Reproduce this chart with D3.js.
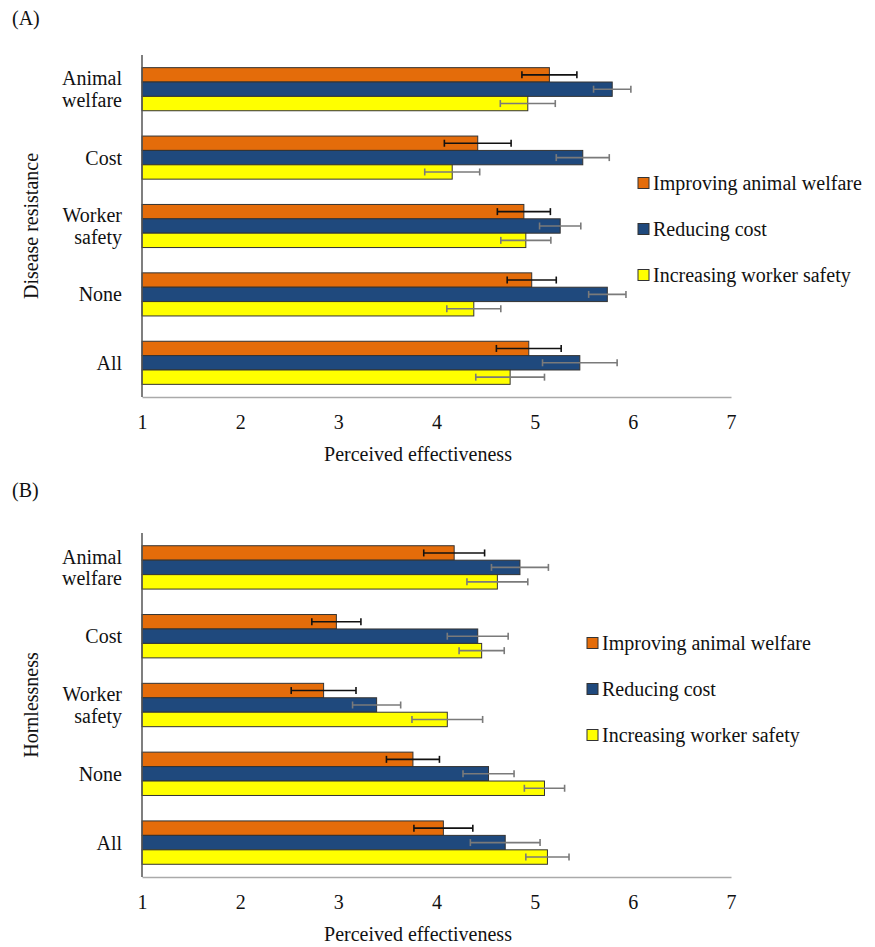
<!DOCTYPE html>
<html>
<head>
<meta charset="utf-8">
<script src="https://cdn.jsdelivr.net/npm/d3@7"></script>
<style>
  body { margin: 0; background: #fff; }
  svg text { font-family: "Liberation Serif", "LiberationSerif", "Times New Roman", Times, "DejaVu Serif", serif !important; }
</style>
</head>
<body>
<svg id="chart" width="875" height="947"></svg>
<script>
// ---- Data ----
const categories = ["Animal welfare", "Cost", "Worker safety", "None", "All"];
const categoryLines = [["Animal", "welfare"], ["Cost"], ["Worker", "safety"], ["None"], ["All"]];
const seriesNames = ["Improving animal welfare", "Reducing cost", "Increasing worker safety"];
const xTicks = [1, 2, 3, 4, 5, 6, 7];

// Panel A: Disease resistance (means and error half-widths)
const diseaseWelfare = [5.15, 4.42, 4.89, 4.97, 4.94];
const diseaseWelfareErr = [0.28, 0.34, 0.27, 0.25, 0.33];
const diseaseCost = [5.79, 5.49, 5.26, 5.74, 5.46];
const diseaseCostErr = [0.19, 0.27, 0.21, 0.19, 0.38];
const diseaseSafety = [4.93, 4.16, 4.91, 4.38, 4.75];
const diseaseSafetyErr = [0.28, 0.28, 0.255, 0.275, 0.35];

// Panel B: Hornlessness
const hornWelfare = [4.18, 2.98, 2.85, 3.76, 4.07];
const hornWelfareErr = [0.31, 0.25, 0.33, 0.27, 0.30];
const hornCost = [4.85, 4.42, 3.39, 4.53, 4.70];
const hornCostErr = [0.29, 0.31, 0.245, 0.26, 0.355];
const hornSafety = [4.62, 4.46, 4.11, 5.10, 5.13];
const hornSafetyErr = [0.31, 0.23, 0.36, 0.205, 0.22];

// ---- Styles ----
const colors = ["#E46C0A", "#1F497D", "#FFFF00"];
const errColors = ["#111111", "#7a7a7a", "#7a7a7a"];
const svg = d3.select("#chart");
const FONT = 20;

function panel(opts) {
  const g = svg.append("g");
  const x = d3.scaleLinear().domain([1, 7]).range([142, 731]);
  const y = d3.scaleBand().domain(categories).range([opts.top, opts.bottom])
    .paddingInner(0.37).paddingOuter(0.185);
  const ys = d3.scaleBand().domain(seriesNames).range([0, y.bandwidth()]);

  const series = opts.values.map((vals, si) => ({
    name: seriesNames[si], si,
    data: categories.map((c, ci) => ({ c, v: vals[ci], e: opts.errs[si][ci] }))
  }));

  // Bars
  series.forEach(s => {
    g.append("g").selectAll("rect").data(s.data).join("rect")
      .attr("x", x(1))
      .attr("y", d => y(d.c) + ys(s.name))
      .attr("width", d => x(d.v) - x(1))
      .attr("height", ys.bandwidth())
      .attr("fill", colors[s.si])
      .attr("stroke", "#333")
      .attr("stroke-width", 1);
  });

  // Error bars
  series.forEach(s => {
    const eg = g.append("g").attr("stroke", errColors[s.si]).attr("stroke-width", 1.6);
    s.data.forEach(d => {
      const cy = y(d.c) + ys(s.name) + ys.bandwidth() / 2;
      eg.append("line").attr("x1", x(d.v - d.e)).attr("x2", x(d.v + d.e)).attr("y1", cy).attr("y2", cy);
      eg.append("line").attr("x1", x(d.v - d.e)).attr("x2", x(d.v - d.e)).attr("y1", cy - 3.5).attr("y2", cy + 3.5);
      eg.append("line").attr("x1", x(d.v + d.e)).attr("x2", x(d.v + d.e)).attr("y1", cy - 3.5).attr("y2", cy + 3.5);
    });
  });

  // X axis
  const xAxis = g.append("g").attr("transform", `translate(0,${opts.bottom})`)
    .call(d3.axisBottom(x).tickValues(xTicks).tickFormat(d3.format("d")).tickSize(0).tickPadding(18));
  xAxis.attr("font-family", null).attr("font-size", null);
  xAxis.select(".domain").attr("stroke", "#aaa").attr("stroke-width", 1.5);
  xAxis.selectAll("text").attr("font-size", FONT).attr("fill", "#111");

  // Y axis
  const yAxis = g.append("g").attr("transform", `translate(${x(1)},0)`)
    .call(d3.axisLeft(y).tickSize(0).tickPadding(20));
  yAxis.attr("font-family", null).attr("font-size", null);
  yAxis.select(".domain").attr("stroke", "#555").attr("stroke-width", 1.5)
    .attr("d", `M0,${opts.top}V${opts.bottom}`);
  yAxis.selectAll(".tick text").each(function (d) {
    const lines = categoryLines[categories.indexOf(d)];
    const t = d3.select(this).text(null).attr("font-size", FONT)
      .attr("fill", "#111").attr("dy", null);
    const lh = 21.5;
    lines.forEach((ln, i) => {
      t.append("tspan").attr("x", -20)
        .attr("dy", i === 0 ? (0.35 * FONT - (lines.length - 1) * lh / 2) : lh)
        .text(ln);
    });
  });

  // Axis titles
  g.append("text").attr("x", 418).attr("y", opts.bottom + 64)
    .attr("text-anchor", "middle").attr("font-size", FONT).attr("fill", "#111")
    .text("Perceived effectiveness");
  g.append("text")
    .attr("transform", `translate(38,${(opts.top + opts.bottom) / 2}) rotate(-90)`)
    .attr("text-anchor", "middle").attr("font-size", FONT).attr("fill", "#111")
    .text(opts.yTitle);

  // Panel label
  g.append("text").attr("x", 12).attr("y", opts.labelY)
    .attr("font-size", FONT).attr("fill", "#111").text(opts.label);

  // Legend
  const lg = g.append("g").attr("transform", `translate(${opts.legendX},${opts.legendY})`);
  seriesNames.forEach((n, i) => {
    const row = lg.append("g").attr("transform", `translate(0,${i * 46})`);
    row.append("rect").attr("x", 0).attr("y", -5.5).attr("width", 11).attr("height", 11)
      .attr("fill", colors[i]).attr("stroke", "#333").attr("stroke-width", 1);
    row.append("text").attr("x", 15).attr("y", 0).attr("dy", "0.35em")
      .attr("font-size", FONT).attr("fill", "#111").text(n);
  });
}

panel({
  top: 55, bottom: 397, label: "(A)", labelY: 25, yTitle: "Disease resistance",
  values: [diseaseWelfare, diseaseCost, diseaseSafety],
  errs: [diseaseWelfareErr, diseaseCostErr, diseaseSafetyErr],
  legendX: 638, legendY: 183
});
panel({
  top: 533, bottom: 877, label: "(B)", labelY: 497, yTitle: "Hornlessness",
  values: [hornWelfare, hornCost, hornSafety],
  errs: [hornWelfareErr, hornCostErr, hornSafetyErr],
  legendX: 587, legendY: 643
});
</script>
</body>
</html>
